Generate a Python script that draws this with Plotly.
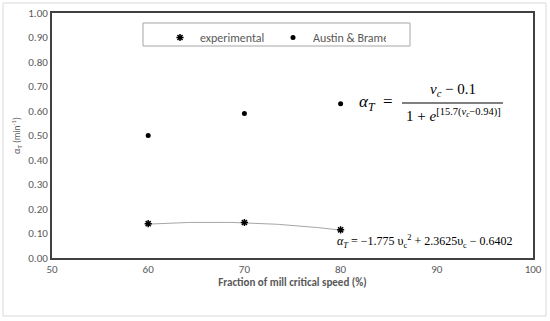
import numpy as np
import plotly.graph_objects as go

# ---- data ----
speed = [60, 70, 80]
experimental = [0.14, 0.145, 0.115]
austin_brame = [0.50, 0.59, 0.63]
trend_coef = [-1.775, 2.3625, -0.6402]  # a*v^2 + b*v + c, v = fraction
x_ticks = [50, 60, 70, 80, 90, 100]
y_ticks = [0.0, 0.1, 0.2, 0.3, 0.4, 0.5, 0.6, 0.7, 0.8, 0.9, 1.0]

W, H = 550, 321
L, R, T, B = 52, 17, 13, 63
pw, ph = W - L - R, H - T - B

def px(xp):
    return (xp - L) / pw

def py(yp):
    return (H - B - yp) / ph

tx = np.linspace(min(speed), max(speed), 60)
v = tx / 100.0
ty = np.polyval(trend_coef, v)

fig = go.Figure()
fig.add_trace(go.Scatter(x=tx, y=ty, mode="lines", line=dict(color="#a6a6a6", width=1),
                         showlegend=False, hoverinfo="skip"))
fig.add_trace(go.Scatter(x=speed, y=experimental, mode="markers", name="experimental",
                         marker=dict(symbol="asterisk-open", size=6, color="black",
                                     line=dict(color="black", width=1.5))))
fig.add_trace(go.Scatter(x=speed, y=austin_brame, mode="markers", name="Austin & Brame",
                         marker=dict(symbol="circle", size=5, color="black")))

tickfont = dict(family="Carlito, Lato, 'Open Sans', sans-serif", size=11, color="#595959")

fig.update_layout(
    width=W, height=H,
    autosize=False,
    margin=dict(l=L, r=R, t=T, b=B, autoexpand=False),
    paper_bgcolor="white", plot_bgcolor="white",
    font=dict(family="Carlito, Lato, sans-serif", color="#595959"),
    legend=dict(orientation="h", x=px(160), y=py(23), xanchor="left", yanchor="top",
                bgcolor="rgba(0,0,0,0)", borderwidth=0, entrywidth=68,
                font=dict(family="Carlito, Lato, sans-serif", size=12, color="#595959"),
                itemwidth=30),
    xaxis=dict(range=[50, 100], tickvals=x_ticks, ticks="", showgrid=False, zeroline=False,
               showline=True, linecolor="#404040", linewidth=2, mirror=True, automargin=False,
               tickfont=tickfont,
               title=dict(text="<b>Fraction of mill critical speed (%)</b>",
                          font=dict(family="Carlito, Lato, sans-serif", size=11, color="#595959"),
                          standoff=3)),
    yaxis=dict(range=[0, 1], tickvals=y_ticks, tickformat=".2f", ticks="", showgrid=False,
               zeroline=False, showline=True, linecolor="#404040", linewidth=2, mirror=True,
               automargin=False, tickfont=tickfont,
               title=dict(text="α<sub>T</sub> (min<sup>-1</sup>)",
                          font=dict(family="Carlito, Lato, sans-serif", size=9.5, color="#595959"),
                          standoff=6)),
    shapes=[
        dict(type="rect", xref="paper", yref="paper", x0=px(3), x1=px(546), y0=py(316), y1=py(3),
             line=dict(color="#d9d9d9", width=1), layer="below"),
        dict(type="rect", xref="paper", yref="paper", x0=px(143), x1=px(410), y0=py(46), y1=py(23),
             line=dict(color="#a6a6a6", width=1), fillcolor="white", layer="below"),
        dict(type="line", xref="paper", yref="paper", x0=px(402), x1=px(503), y0=py(103), y1=py(103),
             line=dict(color="black", width=1)),
    ],
)

eqfont = dict(family="'Liberation Serif', 'DejaVu Serif', serif", size=15, color="black")
fig.add_annotation(xref="paper", yref="paper", x=px(399), y=py(103), xanchor="right", yanchor="middle",
                   text="<i>α<sub>T</sub></i>&nbsp;&nbsp;=&nbsp;", showarrow=False,
                   font=dict(family="'Liberation Serif', 'DejaVu Serif', serif", size=17, color="black"))
fig.add_annotation(xref="paper", yref="paper", x=px(453), y=py(101), xanchor="center", yanchor="bottom",
                   text="<i>v<sub>c</sub></i> − 0.1", showarrow=False, font=eqfont)
fig.add_annotation(xref="paper", yref="paper", x=px(453), y=py(104), xanchor="center", yanchor="top",
                   text="1 + <i>e</i><sup>[15.7(<i>v<sub>c</sub></i>−0.94)]</sup>", showarrow=False,
                   font=eqfont)
fig.add_annotation(xref="paper", yref="paper", x=px(335), y=py(241), xanchor="left", yanchor="middle",
                   text="<i>α<sub>T</sub></i> = −1.775 υ<sub>c</sub><sup>2</sup> + 2.3625υ<sub>c</sub> − 0.6402",
                   showarrow=False,
                   font=dict(family="'Liberation Serif', 'DejaVu Serif', serif", size=12, color="black"))

fig.write_html("out.html", config={"displayModeBar": False},
               post_script="document.body.style.margin='0px';")
